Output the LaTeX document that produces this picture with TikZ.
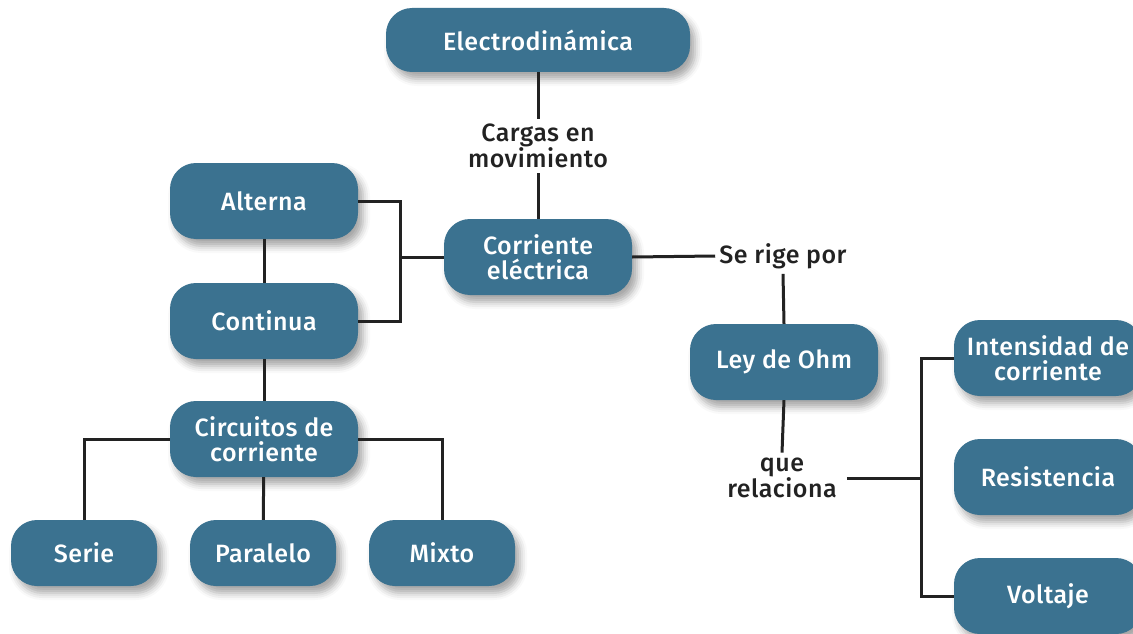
\documentclass[tikz,border=0pt]{standalone}
\usepackage{fontspec}
\setmainfont{Fira Sans}
\newfontfamily\medfont[LetterSpace=2]{Fira Sans Medium}
\usetikzlibrary{shadows.blur}
\definecolor{boxblue}{RGB}{59,114,144}
\definecolor{linegray}{RGB}{34,34,34}
\tikzset{
  box/.style={fill=boxblue, rounded corners=26pt, text=white, align=center,
    minimum width=188pt, minimum height=76pt, inner sep=0pt,
    font=\medfont\fontsize{25}{25}\selectfont,
    blur shadow={shadow xshift=5pt, shadow yshift=-7pt, shadow blur radius=7pt, shadow opacity=35}},
  smallbox/.style={box, minimum width=146pt, minimum height=66pt},
  lbl/.style={align=center, text=linegray, inner xsep=4pt, inner ysep=5pt,
    font=\medfont\fontsize{25}{24}\selectfont},
  conn/.style={draw=linegray, line width=3pt}
}
\begin{document}
\begin{tikzpicture}[x=1pt,y=-1pt]
\useasboundingbox (0,0) rectangle (1133,634);
% nodes
\node[box, minimum width=304pt, minimum height=64pt] (e) at (538,40) {Electrodinámica};
\node[lbl] (cargas) at (538,146) {Cargas en\\movimiento};
\node[box] (ce) at (538,257) {Corriente\\eléctrica};
\node[box] (alt) at (264,201) {Alterna};
\node[box] (cont) at (264,321) {Continua};
\node[box] (circ) at (264,439) {Circuitos de\\corriente};
\node[smallbox] (serie) at (84,553) {Serie};
\node[smallbox] (par) at (263,553) {Paralelo};
\node[smallbox] (mixto) at (442,553) {Mixto};
\node[lbl] (serige) at (783,256) {Se rige por};
\node[box] (ley) at (784,362) {Ley de Ohm};
\node[lbl, inner xsep=10pt] (qr) at (782,478) {que\\relaciona};
\node[box] (int) at (1048,358) {Intensidad de\\corriente};
\node[box] (res) at (1048,477) {Resistencia};
\node[box] (volt) at (1048,596) {Voltaje};
\coordinate (b) at (400,257);
\coordinate (j) at (922,478);
% connectors
\draw[conn] (e.south) -- (cargas.north);
\draw[conn] (cargas.south) -- (ce.north);
\draw[conn] (alt.east) -| (b) |- (cont.east);
\draw[conn] (b) -- (ce.west);
\draw[conn] (alt) -- (cont);
\draw[conn] (cont) -- (circ);
\draw[conn] (circ.west) -| (serie.north);
\draw[conn] (circ) -- (par);
\draw[conn] (circ.east) -| (mixto.north);
\draw[conn] (ce.east) -- (serige.west);
\draw[conn] (serige.south) -- (ley.north);
\draw[conn] (ley.south) -- (qr.north);
\draw[conn] (qr.east) -- (j);
\draw[conn] (int.west) -- ++(-32,0) |- (volt.west);
\end{tikzpicture}
\end{document}
